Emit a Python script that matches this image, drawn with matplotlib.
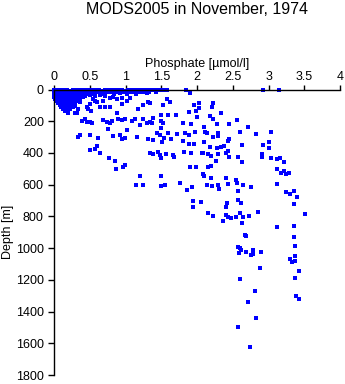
import matplotlib
matplotlib.use("Agg")
import matplotlib.pyplot as plt

plt.rcParams['font.family'] = ['Liberation Sans', 'DejaVu Sans']

title = "MODS2005 in November, 1974"
x_label = "Phosphate [\u00b5mol/l]"
y_label = "Depth [m]"
x_ticks = [0, 0.5, 1, 1.5, 2, 2.5, 3, 3.5, 4]
x_tick_labels = ["0", "0.5", "1", "1.5", "2", "2.5", "3", "3.5", "4"]
y_ticks = [0, 200, 400, 600, 800, 1000, 1200, 1400, 1600, 1800]

# near-surface rows
surf1_phos = [0.00, 0.05, 0.09, 0.14, 0.18, 0.23, 0.27, 0.32, 0.36, 0.41,
              0.45, 0.50, 0.54, 0.59, 0.63, 0.68, 0.72, 0.77, 0.81, 0.86,
              0.90, 0.95, 0.99, 1.04, 1.08, 1.13, 1.17, 1.22, 1.26, 1.31,
              1.35, 1.40, 1.44, 1.49, 1.53, 1.58, 1.84, 2.93, 3.15]
surf1_depth = [4, 6, 5, 3, 5, 7, 4, 5, 6, 4,
               5, 3, 6, 5, 4, 7, 5, 5, 3, 6,
               4, 5, 7, 5, 4, 6, 5, 3, 5, 6,
               4, 5, 6, 4, 5, 6, 5, 5, 6]
surf2_phos = [0.02, 0.07, 0.11, 0.16, 0.20, 0.25, 0.29, 0.34, 0.38, 0.43,
              0.47, 0.56, 0.61, 0.65, 0.70, 0.74, 0.79, 0.88, 0.97, 1.01,
              1.06, 1.10, 1.19, 1.24, 1.28, 1.33, 1.42]
surf2_depth = [14, 16, 15, 13, 17, 15, 14, 16, 15, 13,
               16, 15, 14, 17, 15, 13, 16, 15, 14, 16,
               15, 17, 14, 15, 16, 13, 15]
surf3_phos = [0.00, 0.04, 0.09, 0.13, 0.18, 0.22, 0.27, 0.31, 0.36, 0.40,
              0.45, 0.52, 0.58, 0.66, 0.72, 0.84, 0.93, 1.02, 1.15, 1.30,
              1.90]
surf3_depth = [25, 27, 26, 24, 28, 26, 25, 27, 25, 24,
               26, 28, 25, 27, 24, 26, 25, 27, 26, 24,
               20]

# low-phosphate upper layer (35-150 m)
upper_phos = [0.02, 0.06, 0.11, 0.15, 0.20, 0.24, 0.29, 0.33, 0.38, 0.43,
              0.00, 0.04, 0.08, 0.13, 0.17, 0.22, 0.26, 0.31, 0.35, 0.40,
              0.02, 0.06, 0.11, 0.15, 0.19, 0.24, 0.28, 0.33, 0.37,
              0.04, 0.09, 0.13, 0.18, 0.22, 0.27, 0.31, 0.36,
              0.06, 0.11, 0.15, 0.20, 0.24, 0.30,
              0.08, 0.13, 0.18, 0.22, 0.29,
              0.10, 0.15, 0.20, 0.26,
              0.12, 0.18, 0.22, 0.34,
              0.15, 0.20, 0.19]
upper_depth = [37, 39, 36, 40, 38, 37, 39, 38, 36, 40,
               49, 51, 50, 48, 52, 50, 49, 51, 50, 48,
               61, 63, 62, 60, 64, 62, 61, 63, 62,
               74, 76, 75, 73, 77, 75, 74, 76,
               87, 89, 88, 86, 90, 88,
               99, 101, 100, 98, 102,
               111, 113, 112, 110,
               124, 126, 125, 122,
               137, 139, 151]

# scattered points, phosphate 0.3-1.35
mid_phos = [0.50, 0.64, 0.71, 0.78, 0.57, 0.60, 0.69, 0.78, 0.88, 0.95,
            1.02, 1.06, 1.32, 1.18, 1.25, 0.95, 0.46, 0.55, 0.48, 0.52,
            0.29, 0.32, 0.43, 0.39, 0.46, 0.50, 0.53, 0.69, 0.74, 0.81,
            0.78, 0.76, 0.88, 0.90, 0.95, 0.99, 1.09, 1.13, 1.25, 1.20,
            1.30, 1.02,
            0.34, 0.36, 0.50, 0.62, 0.83, 0.92, 0.95, 0.99, 1.16, 1.32,
            0.50, 0.57, 0.60, 0.64, 0.77, 0.85, 0.87, 0.96, 0.99, 1.20,
            1.15, 1.25,
            0.50, 0.57, 0.64, 0.71, 0.83]
mid_depth = [94, 108, 108, 108, 73, 77, 73, 52, 58, 52,
             73, 52, 79, 125, 100, 94, 112, 62, 125, 138,
             150, 146, 188, 198, 205, 205, 209, 190, 205, 198,
             213, 247, 150, 184, 192, 188, 198, 184, 184, 226,
             209, 255,
             297, 289, 289, 308, 293, 289, 310, 308, 297, 314,
             383, 377, 356, 400, 432, 449, 503, 491, 476, 543,
             602, 602,
             35, 38, 33, 40, 45]

# phosphate > 1.3, depth < 900 m
right_phos = [1.34, 1.53, 1.58, 1.62, 1.96, 2.03, 2.03, 2.23, 2.21, 1.89,
              1.99, 2.34, 2.18, 2.23, 2.00, 1.50, 1.59, 1.70, 1.39, 1.34,
              1.37, 1.49, 1.52, 1.81, 1.92, 2.10, 2.28, 2.45, 2.56, 2.72,
              1.50, 1.44, 1.48, 1.60, 1.72, 1.83, 1.89, 1.97, 2.11, 2.14,
              2.30, 2.29, 2.23, 2.60, 2.82, 3.03, 1.39, 1.51, 1.54, 1.64,
              1.80, 1.96, 1.89, 2.10, 2.18, 2.28, 2.34, 2.45, 2.43, 2.38,
              2.63, 2.92, 3.00, 3.01, 1.34, 1.39, 1.46, 1.48, 1.50, 1.56,
              1.66, 1.68, 1.82, 1.91, 2.07, 2.09, 2.15, 2.20, 2.30, 2.40,
              2.44, 2.45, 2.27, 2.58, 2.63, 2.91, 2.91, 3.03, 3.12, 3.16,
              3.21, 1.90, 1.98, 2.15, 2.19, 2.09, 2.10, 2.20, 1.50, 1.76,
              1.50, 1.55, 1.86, 1.93, 2.14, 2.21, 2.30, 2.31, 2.41, 2.43,
              2.55, 2.56, 2.65, 2.76, 2.58, 3.12, 3.18, 3.22, 3.25, 3.29,
              3.12, 3.25, 3.30, 3.35, 3.40, 3.35, 1.95, 2.05, 1.94, 2.42,
              2.41, 2.58, 2.62, 2.15, 2.23, 2.36, 2.41, 2.44, 2.48, 2.55,
              2.60, 2.65, 2.73, 2.85, 2.63, 3.12, 3.35, 3.51]
right_depth = [87, 100, 60, 81, 100, 87, 114, 87, 112, 142,
               133, 150, 167, 188, 175, 163, 163, 163, 180, 203,
               209, 198, 209, 213, 220, 238, 220, 220, 194, 238,
               245, 276, 287, 272, 282, 276, 287, 266, 266, 272,
               272, 293, 301, 266, 282, 270, 318, 329, 308, 314,
               324, 345, 345, 329, 360, 371, 360, 312, 324, 356,
               352, 352, 329, 371, 398, 407, 392, 413, 434, 409,
               413, 423, 392, 402, 402, 398, 407, 417, 407, 398,
               388, 423, 449, 428, 457, 409, 428, 434, 436, 430,
               457, 486, 486, 491, 482, 532, 543, 560, 545, 587,
               608, 604, 633, 612, 604, 608, 604, 629, 560, 596,
               570, 591, 604, 617, 642, 499, 528, 514, 535, 528,
               596, 644, 659, 642, 680, 724, 703, 711, 743, 713,
               743, 697, 718, 780, 800, 831, 793, 802, 808, 806,
               780, 806, 797, 774, 844, 865, 861, 787]

# deep water (> 900 m)
deep_phos = [2.67, 2.69, 2.58, 2.60, 2.61, 2.59, 2.69, 2.75, 2.79, 2.78,
             2.90, 2.88, 2.60, 2.81, 2.72, 2.83, 2.58, 2.74,
             3.35, 3.37, 3.30, 3.33, 3.37, 3.37, 3.42, 3.37, 3.38, 3.42]
deep_depth = [920, 924, 995, 997, 1012, 1033, 1023, 1044, 1012, 1037,
              1023, 1128, 1197, 1272, 1337, 1443, 1495, 1625,
              932, 987, 1071, 1090, 1052, 1083, 1146, 1190, 1302, 1319]

groups = [(surf1_phos, surf1_depth), (surf2_phos, surf2_depth),
          (surf3_phos, surf3_depth), (upper_phos, upper_depth),
          (mid_phos, mid_depth), (right_phos, right_depth),
          (deep_phos, deep_depth)]

fig = plt.figure(figsize=(3.45, 3.84), dpi=100)
ax = fig.add_axes([54 / 345, 9 / 384, 286 / 345, 285.5 / 384])

for px, dz in groups:
    n = min(len(px), len(dz))
    ax.plot(px[:n], dz[:n], linestyle='none', marker='s', markersize=2.2,
            markerfacecolor='#0000ff', markeredgewidth=0, clip_on=False)

ax.set_xlim(0, 4)
ax.set_ylim(1800, 0)
ax.xaxis.tick_top()
ax.xaxis.set_label_position('top')
ax.set_xticks(x_ticks)
ax.set_xticklabels(x_tick_labels)
ax.set_yticks(y_ticks)
for s in ['right', 'bottom']:
    ax.spines[s].set_visible(False)
for s in ['left', 'top']:
    ax.spines[s].set_linewidth(1.0)
ax.tick_params(axis='x', direction='out', length=3.6, width=1.0, pad=1,
               labelsize=9)
ax.tick_params(axis='y', direction='out', length=4.3, width=1.0, pad=3,
               labelsize=9)
ax.set_xlabel(x_label, fontsize=9, labelpad=3)
ax.set_ylabel(y_label, fontsize=9, labelpad=1)
fig.text(197 / 345, 1 - 9 / 384, title, ha='center', va='center', fontsize=11.5)

fig.savefig("out.png", dpi=100)
